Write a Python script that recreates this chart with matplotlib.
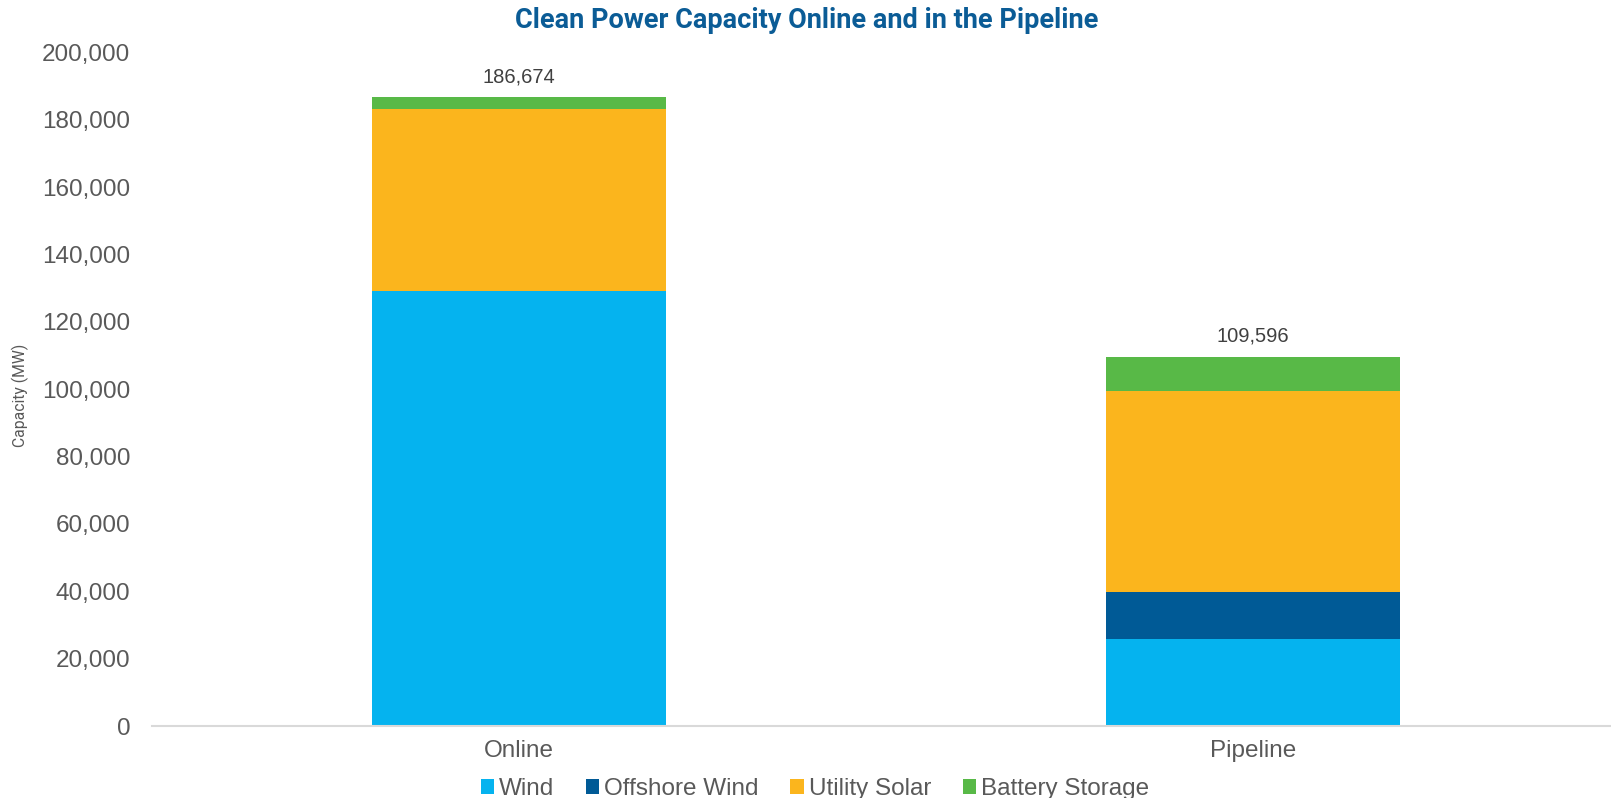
import matplotlib
matplotlib.use("Agg")
import matplotlib.pyplot as plt
from matplotlib.patches import Patch
from matplotlib.ticker import FuncFormatter
import numpy as np

categories = ["Online", "Pipeline"]
series_names = ["Wind", "Offshore Wind", "Utility Solar", "Battery Storage"]
wind = [129200, 25800]
offshore_wind = [0, 14050]
utility_solar = [54100, 59550]
battery_storage = [3374, 10196]
totals = [186674, 109596]
colors = ["#05B3EF", "#005A96", "#FBB51D", "#58B947"]

plt.rcParams['font.family'] = ['Liberation Sans', 'DejaVu Sans']

fig = plt.figure(figsize=(16.11, 7.98), dpi=100)
ax = fig.add_axes([152/1611, 0.0902, 1 - 152/1611, 0.8441])

x = np.arange(len(categories))
bottom = np.zeros(len(categories))
for vals, name, c in zip([wind, offshore_wind, utility_solar, battery_storage], series_names, colors):
    ax.bar(x, vals, width=0.40, bottom=bottom, color=c, label=name, linewidth=0)
    bottom += np.array(vals)

for xi, t in zip(x, totals):
    ax.text(xi, t + 3300, f"{t:,}", ha="center", va="bottom", fontsize=14.5, color="#404040")

ax.set_ylim(0, 200000)
ax.set_xlim(-0.5, 1.488)
ax.set_yticks(np.arange(0, 200001, 20000))
ax.yaxis.set_major_formatter(FuncFormatter(lambda v, p: f"{int(v):,}"))
ax.set_xticks(x)
ax.set_xticklabels(categories)
ax.tick_params(axis="both", length=0, labelsize=17.5, colors="#595959")
ax.tick_params(axis="y", pad=15.5)
ax.tick_params(axis="x", pad=10)
for s in ["top", "right", "left"]:
    ax.spines[s].set_visible(False)
ax.spines["bottom"].set_color("#D9D9D9")
ax.spines["bottom"].set_linewidth(1.5)

fig.text(20/1611, 1 - 395/798, "Capacity (MW)", rotation=90, ha="center", va="center",
         fontsize=11.3, color="#595959", family=["Roboto", "DejaVu Sans"])

fig.text(807/1611, 1 - 21/798, "Clean Power Capacity Online and in the Pipeline",
         ha="center", va="center", fontsize=19.5, fontweight="bold", color="#0B5C96",
         family=["Roboto", "DejaVu Sans"])

handles = [Patch(facecolor=c, edgecolor="none") for c in colors]
fig.legend(handles, series_names, loc="center", bbox_to_anchor=(815/1611, 9/798),
           ncol=4, frameon=False, fontsize=17.5, labelcolor="#595959",
           handlelength=0.55, handleheight=0.55, handletextpad=0.2, columnspacing=1.3,
           borderaxespad=0, borderpad=0)

fig.savefig("out.png", dpi=100)
